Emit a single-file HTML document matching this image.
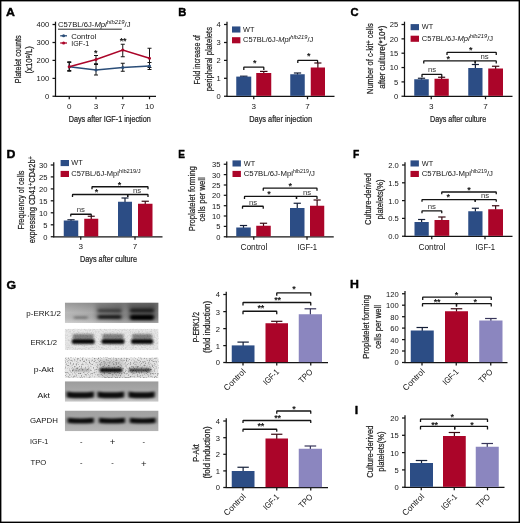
<!DOCTYPE html>
<html><head><meta charset="utf-8"><title>Figure</title>
<style>
html,body{margin:0;padding:0;background:#fff;}
body{width:520px;height:523px;overflow:hidden;font-family:"Liberation Sans",sans-serif;}
svg{display:block;font-family:"Liberation Sans",sans-serif;opacity:0.999;}
</style></head><body>
<svg width="520" height="523" viewBox="0 0 520 523">
<defs>
<filter id="b0_9" filterUnits="userSpaceOnUse" x="60" y="295" width="105" height="145"><feGaussianBlur stdDeviation="0.9 0.7"/></filter>
<filter id="b1_0" filterUnits="userSpaceOnUse" x="60" y="295" width="105" height="145"><feGaussianBlur stdDeviation="1.0 0.8"/></filter>
<filter id="b1_2" filterUnits="userSpaceOnUse" x="60" y="295" width="105" height="145"><feGaussianBlur stdDeviation="1.3 0.9"/></filter>
<filter id="b1_4" filterUnits="userSpaceOnUse" x="60" y="295" width="105" height="145"><feGaussianBlur stdDeviation="1.5 1.1"/></filter>
<filter id="b2_5" filterUnits="userSpaceOnUse" x="60" y="295" width="105" height="145"><feGaussianBlur stdDeviation="2.5 2"/></filter>
<filter id="noiseS" x="0" y="0" width="100%" height="100%"><feTurbulence type="fractalNoise" baseFrequency="0.75" numOctaves="2" seed="3" result="n"/><feColorMatrix type="matrix" values="0 0 0 0 0  0 0 0 0 0  0 0 0 0 0  2.6 0 0 0 -1.25"/><feGaussianBlur stdDeviation="0.35"/></filter>
<filter id="noiseL" x="0" y="0" width="100%" height="100%"><feTurbulence type="fractalNoise" baseFrequency="0.7" numOctaves="2" seed="7"/><feColorMatrix type="matrix" values="0 0 0 0 0  0 0 0 0 0  0 0 0 0 0  1.2 0 0 0 -0.52"/><feGaussianBlur stdDeviation="0.4"/></filter>
<linearGradient id="g1" x1="0" y1="0" x2="1" y2="0"><stop offset="0" stop-color="#c4c4c4"/><stop offset="0.3" stop-color="#b2b2b2"/><stop offset="0.6" stop-color="#999"/><stop offset="1" stop-color="#8a8a8a"/></linearGradient>
<linearGradient id="g1v" x1="0" y1="0" x2="0" y2="1"><stop offset="0" stop-color="#000" stop-opacity="0.22"/><stop offset="0.5" stop-color="#000" stop-opacity="0.05"/><stop offset="1" stop-color="#fff" stop-opacity="0.25"/></linearGradient>
<linearGradient id="g4" x1="0" y1="0" x2="0" y2="1"><stop offset="0" stop-color="#9c9c9c"/><stop offset="0.45" stop-color="#a8a8a8"/><stop offset="0.8" stop-color="#bdbdbd"/><stop offset="1" stop-color="#c6c6c6"/></linearGradient>
<linearGradient id="g5" x1="0" y1="0" x2="0" y2="1"><stop offset="0" stop-color="#a2a2a2"/><stop offset="0.5" stop-color="#a6a6a6"/><stop offset="1" stop-color="#b4b4b4"/></linearGradient>
<clipPath id="c1"><rect x="64.8" y="302.5" width="93.8" height="20.5"/></clipPath>
<clipPath id="c2"><rect x="64.8" y="328.75" width="93.8" height="21.25"/></clipPath>
<clipPath id="c3"><rect x="64.8" y="357.5" width="93.8" height="20.5"/></clipPath>
<clipPath id="c4"><rect x="64.8" y="381.25" width="93.8" height="20.5"/></clipPath>
<clipPath id="c5"><rect x="64.8" y="410.5" width="93.8" height="20.75"/></clipPath>
</defs>
<rect x="0" y="0" width="520" height="523" fill="#fff"/>
<text transform="translate(6.1 15.7) scale(1.1 1)" font-size="11.2" font-weight="bold" fill="#000" stroke="#000" stroke-width="0.4" stroke-linejoin="round">A</text>
<line x1="55.5" y1="21.7" x2="55.5" y2="96.8" stroke="#141414" stroke-width="1.25" stroke-linecap="butt"/>
<line x1="54.95" y1="96.25" x2="156" y2="96.25" stroke="#141414" stroke-width="1.25" stroke-linecap="butt"/>
<line x1="52.5" y1="24.5" x2="55.5" y2="24.5" stroke="#141414" stroke-width="1.25" stroke-linecap="butt"/>
<text x="49.3" y="27.4" font-size="8.1" text-anchor="end" fill="#141414" textLength="12.7" lengthAdjust="spacingAndGlyphs" >400</text>
<line x1="52.5" y1="42.5" x2="55.5" y2="42.5" stroke="#141414" stroke-width="1.25" stroke-linecap="butt"/>
<text x="49.3" y="45.4" font-size="8.1" text-anchor="end" fill="#141414" textLength="12.7" lengthAdjust="spacingAndGlyphs" >300</text>
<line x1="52.5" y1="60.4" x2="55.5" y2="60.4" stroke="#141414" stroke-width="1.25" stroke-linecap="butt"/>
<text x="49.3" y="63.3" font-size="8.1" text-anchor="end" fill="#141414" textLength="12.7" lengthAdjust="spacingAndGlyphs" >200</text>
<line x1="52.5" y1="78.4" x2="55.5" y2="78.4" stroke="#141414" stroke-width="1.25" stroke-linecap="butt"/>
<text x="49.3" y="81.30000000000001" font-size="8.1" text-anchor="end" fill="#141414" textLength="12.7" lengthAdjust="spacingAndGlyphs" >100</text>
<line x1="52.5" y1="96.25" x2="55.5" y2="96.25" stroke="#141414" stroke-width="1.25" stroke-linecap="butt"/>
<text x="49.3" y="99.15" font-size="8.1" text-anchor="end" fill="#141414" textLength="4.23" lengthAdjust="spacingAndGlyphs" >0</text>
<line x1="69.25" y1="96.25" x2="69.25" y2="99.25" stroke="#141414" stroke-width="1.25" stroke-linecap="butt"/>
<line x1="96" y1="96.25" x2="96" y2="99.25" stroke="#141414" stroke-width="1.25" stroke-linecap="butt"/>
<line x1="122.75" y1="96.25" x2="122.75" y2="99.25" stroke="#141414" stroke-width="1.25" stroke-linecap="butt"/>
<line x1="149.5" y1="96.25" x2="149.5" y2="99.25" stroke="#141414" stroke-width="1.25" stroke-linecap="butt"/>
<text x="69.25" y="109.2" font-size="8.1" text-anchor="middle" fill="#141414" >0</text>
<text x="96" y="109.2" font-size="8.1" text-anchor="middle" fill="#141414" >3</text>
<text x="122.75" y="109.2" font-size="8.1" text-anchor="middle" fill="#141414" >7</text>
<text x="149.5" y="109.2" font-size="8.1" text-anchor="middle" fill="#141414" >10</text>
<text x="68.75" y="122.32400000000001" font-size="8.6" fill="#222" stroke="#222" stroke-width="0.22" textLength="82.0" lengthAdjust="spacingAndGlyphs">Days after IGF-1 injection</text>
<text transform="translate(20.86 83.2) rotate(-90)" font-size="9.0" fill="#222" stroke="#222" stroke-width="0.22" textLength="47.900000000000006" lengthAdjust="spacingAndGlyphs">Platelet counts</text>
<text transform="translate(32.4 73.6) rotate(-90)" font-size="9.0" fill="#222" stroke="#222" stroke-width="0.22" textLength="27.6" lengthAdjust="spacingAndGlyphs">(x10<tspan font-size="6.2" dy="-2.8">9</tspan><tspan dy="2.8">/L)</tspan></text>
<text x="58.0" y="27.0" font-size="7.3" fill="#141414" textLength="72.6" lengthAdjust="spacingAndGlyphs">C57BL/6J-<tspan font-style="italic">Mpl</tspan><tspan font-style="italic" font-size="5.6" dy="-3">hlb219</tspan><tspan dy="3">/J</tspan></text>
<line x1="58.0" y1="29.2" x2="121.8" y2="29.2" stroke="#141414" stroke-width="0.9" stroke-linecap="butt"/>
<line x1="60.2" y1="35.8" x2="67" y2="35.8" stroke="#2a4d78" stroke-width="1.3" stroke-linecap="butt"/>
<circle cx="63.6" cy="35.8" r="1.5" fill="#2a4d78"/>
<text x="71.2" y="38.6" font-size="7.4" text-anchor="start" fill="#141414" textLength="25" lengthAdjust="spacingAndGlyphs" >Control</text>
<line x1="60.2" y1="43" x2="67" y2="43" stroke="#ab0529" stroke-width="1.3" stroke-linecap="butt"/>
<circle cx="63.6" cy="43" r="1.5" fill="#ab0529"/>
<text x="71.2" y="45.6" font-size="7.4" text-anchor="start" fill="#141414" textLength="18" lengthAdjust="spacingAndGlyphs" >IGF-1</text>
<line x1="69.25" y1="61.75" x2="69.25" y2="71.25" stroke="#141414" stroke-width="1.0" stroke-linecap="butt"/>
<line x1="67.25" y1="61.75" x2="71.25" y2="61.75" stroke="#141414" stroke-width="1.0" stroke-linecap="butt"/>
<line x1="67.25" y1="71.25" x2="71.25" y2="71.25" stroke="#141414" stroke-width="1.0" stroke-linecap="butt"/>
<line x1="96" y1="63.75" x2="96" y2="75" stroke="#141414" stroke-width="1.0" stroke-linecap="butt"/>
<line x1="94" y1="63.75" x2="98" y2="63.75" stroke="#141414" stroke-width="1.0" stroke-linecap="butt"/>
<line x1="94" y1="75" x2="98" y2="75" stroke="#141414" stroke-width="1.0" stroke-linecap="butt"/>
<line x1="122.75" y1="63.25" x2="122.75" y2="71.25" stroke="#141414" stroke-width="1.0" stroke-linecap="butt"/>
<line x1="120.75" y1="63.25" x2="124.75" y2="63.25" stroke="#141414" stroke-width="1.0" stroke-linecap="butt"/>
<line x1="120.75" y1="71.25" x2="124.75" y2="71.25" stroke="#141414" stroke-width="1.0" stroke-linecap="butt"/>
<line x1="149.5" y1="62.5" x2="149.5" y2="69.5" stroke="#141414" stroke-width="1.0" stroke-linecap="butt"/>
<line x1="147.5" y1="62.5" x2="151.5" y2="62.5" stroke="#141414" stroke-width="1.0" stroke-linecap="butt"/>
<line x1="147.5" y1="69.5" x2="151.5" y2="69.5" stroke="#141414" stroke-width="1.0" stroke-linecap="butt"/>
<line x1="69.25" y1="62.5" x2="69.25" y2="70.5" stroke="#141414" stroke-width="1.0" stroke-linecap="butt"/>
<line x1="67.25" y1="62.5" x2="71.25" y2="62.5" stroke="#141414" stroke-width="1.0" stroke-linecap="butt"/>
<line x1="67.25" y1="70.5" x2="71.25" y2="70.5" stroke="#141414" stroke-width="1.0" stroke-linecap="butt"/>
<line x1="96" y1="55.5" x2="96" y2="64.5" stroke="#141414" stroke-width="1.0" stroke-linecap="butt"/>
<line x1="94" y1="55.5" x2="98" y2="55.5" stroke="#141414" stroke-width="1.0" stroke-linecap="butt"/>
<line x1="94" y1="64.5" x2="98" y2="64.5" stroke="#141414" stroke-width="1.0" stroke-linecap="butt"/>
<line x1="122.75" y1="44.25" x2="122.75" y2="56.75" stroke="#141414" stroke-width="1.0" stroke-linecap="butt"/>
<line x1="120.75" y1="44.25" x2="124.75" y2="44.25" stroke="#141414" stroke-width="1.0" stroke-linecap="butt"/>
<line x1="120.75" y1="56.75" x2="124.75" y2="56.75" stroke="#141414" stroke-width="1.0" stroke-linecap="butt"/>
<line x1="149.5" y1="48.25" x2="149.5" y2="67.5" stroke="#141414" stroke-width="1.0" stroke-linecap="butt"/>
<line x1="147.5" y1="48.25" x2="151.5" y2="48.25" stroke="#141414" stroke-width="1.0" stroke-linecap="butt"/>
<line x1="147.5" y1="67.5" x2="151.5" y2="67.5" stroke="#141414" stroke-width="1.0" stroke-linecap="butt"/>
<polyline points="69.25,66.75 96,70 122.75,67.5 149.5,66" fill="none" stroke="#2a4d78" stroke-width="1.5"/>
<polyline points="69.25,66.75 96,59.5 122.75,50 149.5,58.25" fill="none" stroke="#ab0529" stroke-width="1.5"/>
<circle cx="69.25" cy="66.75" r="1.5" fill="#2a4d78"/>
<circle cx="96" cy="70" r="1.5" fill="#2a4d78"/>
<circle cx="122.75" cy="67.5" r="1.5" fill="#2a4d78"/>
<circle cx="149.5" cy="66" r="1.5" fill="#2a4d78"/>
<circle cx="69.25" cy="66.75" r="1.5" fill="#ab0529"/>
<circle cx="96" cy="59.5" r="1.5" fill="#ab0529"/>
<circle cx="122.75" cy="50" r="1.5" fill="#ab0529"/>
<circle cx="149.5" cy="58.25" r="1.5" fill="#ab0529"/>
<text x="95.7" y="56.4" font-size="9" text-anchor="middle" fill="#141414" font-weight="bold" letter-spacing="-0.3">*</text>
<text x="123" y="44.0" font-size="9" text-anchor="middle" fill="#141414" font-weight="bold" letter-spacing="-0.3">**</text>
<text transform="translate(178.29999999999998 15.5) scale(1.0 1)" font-size="11.2" font-weight="bold" fill="#000" stroke="#000" stroke-width="0.4" stroke-linejoin="round">B</text>
<line x1="227" y1="21.7" x2="227" y2="96.8" stroke="#141414" stroke-width="1.25" stroke-linecap="butt"/>
<line x1="226.45" y1="96.25" x2="334.5" y2="96.25" stroke="#141414" stroke-width="1.25" stroke-linecap="butt"/>
<line x1="224" y1="24.5" x2="227" y2="24.5" stroke="#141414" stroke-width="1.25" stroke-linecap="butt"/>
<text x="220.8" y="27.4" font-size="8.1" text-anchor="end" fill="#141414" textLength="4.23" lengthAdjust="spacingAndGlyphs" >4</text>
<line x1="224" y1="42.5" x2="227" y2="42.5" stroke="#141414" stroke-width="1.25" stroke-linecap="butt"/>
<text x="220.8" y="45.4" font-size="8.1" text-anchor="end" fill="#141414" textLength="4.23" lengthAdjust="spacingAndGlyphs" >3</text>
<line x1="224" y1="60.4" x2="227" y2="60.4" stroke="#141414" stroke-width="1.25" stroke-linecap="butt"/>
<text x="220.8" y="63.3" font-size="8.1" text-anchor="end" fill="#141414" textLength="4.23" lengthAdjust="spacingAndGlyphs" >2</text>
<line x1="224" y1="78.3" x2="227" y2="78.3" stroke="#141414" stroke-width="1.25" stroke-linecap="butt"/>
<text x="220.8" y="81.2" font-size="8.1" text-anchor="end" fill="#141414" textLength="4.23" lengthAdjust="spacingAndGlyphs" >1</text>
<line x1="224" y1="96.25" x2="227" y2="96.25" stroke="#141414" stroke-width="1.25" stroke-linecap="butt"/>
<text x="220.8" y="99.15" font-size="8.1" text-anchor="end" fill="#141414" textLength="4.23" lengthAdjust="spacingAndGlyphs" >0</text>
<line x1="253.75" y1="96.25" x2="253.75" y2="99.25" stroke="#141414" stroke-width="1.25" stroke-linecap="butt"/>
<line x1="307.5" y1="96.25" x2="307.5" y2="99.25" stroke="#141414" stroke-width="1.25" stroke-linecap="butt"/>
<line x1="243.75" y1="76.2" x2="243.75" y2="77.1" stroke="#141f38" stroke-width="1.2" stroke-linecap="butt"/>
<line x1="240.0" y1="76.2" x2="247.5" y2="76.2" stroke="#141f38" stroke-width="1.2" stroke-linecap="butt"/>
<rect x="236.25" y="76.6" width="15.0" height="19.250000000000007" fill="#2c4d85" />
<line x1="263.75" y1="71.4" x2="263.75" y2="73.5" stroke="#3a0a12" stroke-width="1.2" stroke-linecap="butt"/>
<line x1="260.0" y1="71.4" x2="267.5" y2="71.4" stroke="#3a0a12" stroke-width="1.2" stroke-linecap="butt"/>
<rect x="256.25" y="73" width="15.0" height="22.85" fill="#ab0529" />
<line x1="297.5" y1="73" x2="297.5" y2="74.75" stroke="#141f38" stroke-width="1.2" stroke-linecap="butt"/>
<line x1="293.875" y1="73" x2="301.125" y2="73" stroke="#141f38" stroke-width="1.2" stroke-linecap="butt"/>
<rect x="290.25" y="74.25" width="14.5" height="21.6" fill="#2c4d85" />
<line x1="317.875" y1="63" x2="317.875" y2="68.0" stroke="#3a0a12" stroke-width="1.2" stroke-linecap="butt"/>
<line x1="314.3125" y1="63" x2="321.4375" y2="63" stroke="#3a0a12" stroke-width="1.2" stroke-linecap="butt"/>
<rect x="310.75" y="67.5" width="14.25" height="28.35" fill="#ab0529" />
<path d="M243.8 70.0 V67.5 Q243.8 67.1 244.20000000000002 67.1 H263.40000000000003 Q263.8 67.1 263.8 67.5 V70.0" fill="none" stroke="#141414" stroke-width="1.3"/>
<text x="254.7" y="66.3" font-size="9" text-anchor="middle" fill="#141414" font-weight="bold" letter-spacing="-0.3">*</text>
<path d="M297.8 62.9 V60.699999999999996 Q297.8 60.3 298.2 60.3 H317.20000000000005 Q317.6 60.3 317.6 60.699999999999996 V62.9" fill="none" stroke="#141414" stroke-width="1.3"/>
<text x="308.6" y="59.199999999999996" font-size="9" text-anchor="middle" fill="#141414" font-weight="bold" letter-spacing="-0.3">*</text>
<rect x="232" y="26.45" width="8.4" height="6.1" fill="#2c4d85" />
<rect x="232" y="37.2" width="8.4" height="6.1" fill="#ab0529" />
<text x="243" y="31.55" font-size="7.3" text-anchor="start" fill="#141414" >WT</text>
<text x="243" y="42.3" font-size="7.3" fill="#141414" textLength="70.25" lengthAdjust="spacingAndGlyphs">C57BL/6J-<tspan font-style="italic">Mpl</tspan><tspan font-style="italic" font-size="5.6" dy="-3">hlb219</tspan><tspan dy="3">/J</tspan></text>
<text x="253.75" y="109.2" font-size="8.1" text-anchor="middle" fill="#141414" >3</text>
<text x="307.5" y="109.2" font-size="8.1" text-anchor="middle" fill="#141414" >7</text>
<text x="249.25" y="121.924" font-size="8.6" fill="#222" stroke="#222" stroke-width="0.22" textLength="62.75" lengthAdjust="spacingAndGlyphs">Days after injection</text>
<text transform="translate(200.06 84.5) rotate(-90)" font-size="9.0" fill="#222" stroke="#222" stroke-width="0.22" textLength="49.5" lengthAdjust="spacingAndGlyphs">Fold increase of</text>
<text transform="translate(212.31 91.25) rotate(-90)" font-size="9.0" fill="#222" stroke="#222" stroke-width="0.22" textLength="64.25" lengthAdjust="spacingAndGlyphs">peripheral platelets</text>
<text transform="translate(350.6 15.5) scale(1.0 1)" font-size="11.2" font-weight="bold" fill="#000" stroke="#000" stroke-width="0.4" stroke-linejoin="round">C</text>
<line x1="404.5" y1="21.7" x2="404.5" y2="96.8" stroke="#141414" stroke-width="1.25" stroke-linecap="butt"/>
<line x1="403.95" y1="96.25" x2="512.5" y2="96.25" stroke="#141414" stroke-width="1.25" stroke-linecap="butt"/>
<line x1="401.5" y1="24.5" x2="404.5" y2="24.5" stroke="#141414" stroke-width="1.25" stroke-linecap="butt"/>
<text x="398.3" y="27.4" font-size="8.1" text-anchor="end" fill="#141414" textLength="8.47" lengthAdjust="spacingAndGlyphs" >25</text>
<line x1="401.5" y1="38.85" x2="404.5" y2="38.85" stroke="#141414" stroke-width="1.25" stroke-linecap="butt"/>
<text x="398.3" y="41.75" font-size="8.1" text-anchor="end" fill="#141414" textLength="8.47" lengthAdjust="spacingAndGlyphs" >20</text>
<line x1="401.5" y1="53.2" x2="404.5" y2="53.2" stroke="#141414" stroke-width="1.25" stroke-linecap="butt"/>
<text x="398.3" y="56.1" font-size="8.1" text-anchor="end" fill="#141414" textLength="8.47" lengthAdjust="spacingAndGlyphs" >15</text>
<line x1="401.5" y1="67.55" x2="404.5" y2="67.55" stroke="#141414" stroke-width="1.25" stroke-linecap="butt"/>
<text x="398.3" y="70.45" font-size="8.1" text-anchor="end" fill="#141414" textLength="8.47" lengthAdjust="spacingAndGlyphs" >10</text>
<line x1="401.5" y1="81.9" x2="404.5" y2="81.9" stroke="#141414" stroke-width="1.25" stroke-linecap="butt"/>
<text x="398.3" y="84.80000000000001" font-size="8.1" text-anchor="end" fill="#141414" textLength="4.23" lengthAdjust="spacingAndGlyphs" >5</text>
<line x1="401.5" y1="96.25" x2="404.5" y2="96.25" stroke="#141414" stroke-width="1.25" stroke-linecap="butt"/>
<text x="398.3" y="99.15" font-size="8.1" text-anchor="end" fill="#141414" textLength="4.23" lengthAdjust="spacingAndGlyphs" >0</text>
<line x1="431.25" y1="96.25" x2="431.25" y2="99.25" stroke="#141414" stroke-width="1.25" stroke-linecap="butt"/>
<line x1="485.5" y1="96.25" x2="485.5" y2="99.25" stroke="#141414" stroke-width="1.25" stroke-linecap="butt"/>
<line x1="421.5" y1="78.25" x2="421.5" y2="79.75" stroke="#141f38" stroke-width="1.2" stroke-linecap="butt"/>
<line x1="417.875" y1="78.25" x2="425.125" y2="78.25" stroke="#141f38" stroke-width="1.2" stroke-linecap="butt"/>
<rect x="414.25" y="79.25" width="14.5" height="16.6" fill="#2c4d85" />
<line x1="441.625" y1="77.25" x2="441.625" y2="79.25" stroke="#3a0a12" stroke-width="1.2" stroke-linecap="butt"/>
<line x1="438.0625" y1="77.25" x2="445.1875" y2="77.25" stroke="#3a0a12" stroke-width="1.2" stroke-linecap="butt"/>
<rect x="434.5" y="78.75" width="14.25" height="17.1" fill="#ab0529" />
<line x1="475.375" y1="64.5" x2="475.375" y2="68.5" stroke="#141f38" stroke-width="1.2" stroke-linecap="butt"/>
<line x1="471.8125" y1="64.5" x2="478.9375" y2="64.5" stroke="#141f38" stroke-width="1.2" stroke-linecap="butt"/>
<rect x="468.25" y="68" width="14.25" height="27.85" fill="#2c4d85" />
<line x1="495.625" y1="66.25" x2="495.625" y2="69.0" stroke="#3a0a12" stroke-width="1.2" stroke-linecap="butt"/>
<line x1="491.9375" y1="66.25" x2="499.3125" y2="66.25" stroke="#3a0a12" stroke-width="1.2" stroke-linecap="butt"/>
<rect x="488.25" y="68.5" width="14.75" height="27.35" fill="#ab0529" />
<path d="M422 77.2 V74.80000000000001 Q422 74.4 422.4 74.4 H441.35 Q441.75 74.4 441.75 74.80000000000001 V77.2" fill="none" stroke="#141414" stroke-width="1.3"/>
<text x="432" y="72.0" font-size="7.8" text-anchor="middle" fill="#333" >ns</text>
<path d="M423.75 63.4 V61.3 Q423.75 60.9 424.15 60.9 H474.8 Q475.2 60.9 475.2 61.3 V63.4" fill="none" stroke="#141414" stroke-width="1.3"/>
<text x="448" y="62.0" font-size="9" text-anchor="middle" fill="#141414" font-weight="bold" letter-spacing="-0.3">*</text>
<path d="M475.2 63.4 V61.3 Q475.2 60.9 475.59999999999997 60.9 H495.85 Q496.25 60.9 496.25 61.3 V63.4" fill="none" stroke="#141414" stroke-width="1.3"/>
<text x="484.5" y="59.3" font-size="7.8" text-anchor="middle" fill="#333" >ns</text>
<path d="M447 54.9 V52.8 Q447 52.4 447.4 52.4 H495.85 Q496.25 52.4 496.25 52.8 V54.9" fill="none" stroke="#141414" stroke-width="1.3"/>
<text x="470.5" y="52.699999999999996" font-size="9" text-anchor="middle" fill="#141414" font-weight="bold" letter-spacing="-0.3">*</text>
<rect x="410.6" y="24.099999999999998" width="8.4" height="6.1" fill="#2c4d85" />
<rect x="410.6" y="35.7" width="8.4" height="6.1" fill="#ab0529" />
<text x="421.75" y="29.2" font-size="7.3" text-anchor="start" fill="#141414" >WT</text>
<text x="421.75" y="40.8" font-size="7.3" fill="#141414" textLength="71.35000000000002" lengthAdjust="spacingAndGlyphs">C57BL/6J-<tspan font-style="italic">Mpl</tspan><tspan font-style="italic" font-size="5.6" dy="-3">hlb219</tspan><tspan dy="3">/J</tspan></text>
<text x="431.25" y="109.2" font-size="8.1" text-anchor="middle" fill="#141414" >3</text>
<text x="485.5" y="109.2" font-size="8.1" text-anchor="middle" fill="#141414" >7</text>
<text x="430" y="121.924" font-size="8.6" fill="#222" stroke="#222" stroke-width="0.22" textLength="56.25" lengthAdjust="spacingAndGlyphs">Days after culture</text>
<text transform="translate(373.4 94.0) rotate(-90)" font-size="9.0" fill="#222" stroke="#222" stroke-width="0.22" textLength="70.75" lengthAdjust="spacingAndGlyphs">Number of c-kit<tspan font-size="6.5" dy="-2.8">+</tspan><tspan dy="2.8"> cells</tspan></text>
<text transform="translate(385.4 88.8) rotate(-90)" font-size="9.0" fill="#222" stroke="#222" stroke-width="0.22" textLength="63.2" lengthAdjust="spacingAndGlyphs">after culture(*10<tspan font-size="6.2" dy="-2.8">4</tspan><tspan dy="2.8">)</tspan></text>
<text transform="translate(6.6 158.29999999999998) scale(1.1 1)" font-size="11.2" font-weight="bold" fill="#000" stroke="#000" stroke-width="0.4" stroke-linejoin="round">D</text>
<line x1="53.75" y1="162.2" x2="53.75" y2="237.3" stroke="#141414" stroke-width="1.25" stroke-linecap="butt"/>
<line x1="53.2" y1="236.75" x2="162.5" y2="236.75" stroke="#141414" stroke-width="1.25" stroke-linecap="butt"/>
<line x1="50.75" y1="165" x2="53.75" y2="165" stroke="#141414" stroke-width="1.25" stroke-linecap="butt"/>
<text x="47.55" y="167.9" font-size="8.1" text-anchor="end" fill="#141414" textLength="8.47" lengthAdjust="spacingAndGlyphs" >30</text>
<line x1="50.75" y1="176.9" x2="53.75" y2="176.9" stroke="#141414" stroke-width="1.25" stroke-linecap="butt"/>
<text x="47.55" y="179.8" font-size="8.1" text-anchor="end" fill="#141414" textLength="8.47" lengthAdjust="spacingAndGlyphs" >25</text>
<line x1="50.75" y1="188.9" x2="53.75" y2="188.9" stroke="#141414" stroke-width="1.25" stroke-linecap="butt"/>
<text x="47.55" y="191.8" font-size="8.1" text-anchor="end" fill="#141414" textLength="8.47" lengthAdjust="spacingAndGlyphs" >20</text>
<line x1="50.75" y1="200.8" x2="53.75" y2="200.8" stroke="#141414" stroke-width="1.25" stroke-linecap="butt"/>
<text x="47.55" y="203.70000000000002" font-size="8.1" text-anchor="end" fill="#141414" textLength="8.47" lengthAdjust="spacingAndGlyphs" >15</text>
<line x1="50.75" y1="212.8" x2="53.75" y2="212.8" stroke="#141414" stroke-width="1.25" stroke-linecap="butt"/>
<text x="47.55" y="215.70000000000002" font-size="8.1" text-anchor="end" fill="#141414" textLength="8.47" lengthAdjust="spacingAndGlyphs" >10</text>
<line x1="50.75" y1="224.8" x2="53.75" y2="224.8" stroke="#141414" stroke-width="1.25" stroke-linecap="butt"/>
<text x="47.55" y="227.70000000000002" font-size="8.1" text-anchor="end" fill="#141414" textLength="4.23" lengthAdjust="spacingAndGlyphs" >5</text>
<line x1="50.75" y1="236.75" x2="53.75" y2="236.75" stroke="#141414" stroke-width="1.25" stroke-linecap="butt"/>
<text x="47.55" y="239.65" font-size="8.1" text-anchor="end" fill="#141414" textLength="4.23" lengthAdjust="spacingAndGlyphs" >0</text>
<line x1="80.75" y1="236.75" x2="80.75" y2="239.75" stroke="#141414" stroke-width="1.25" stroke-linecap="butt"/>
<line x1="135" y1="236.75" x2="135" y2="239.75" stroke="#141414" stroke-width="1.25" stroke-linecap="butt"/>
<line x1="71.0" y1="219.8" x2="71.0" y2="221.0" stroke="#141f38" stroke-width="1.2" stroke-linecap="butt"/>
<line x1="67.375" y1="219.8" x2="74.625" y2="219.8" stroke="#141f38" stroke-width="1.2" stroke-linecap="butt"/>
<rect x="63.75" y="220.5" width="14.5" height="15.85" fill="#2c4d85" />
<line x1="91.25" y1="216.25" x2="91.25" y2="219.25" stroke="#3a0a12" stroke-width="1.2" stroke-linecap="butt"/>
<line x1="87.75" y1="216.25" x2="94.75" y2="216.25" stroke="#3a0a12" stroke-width="1.2" stroke-linecap="butt"/>
<rect x="84.25" y="218.75" width="14.0" height="17.6" fill="#ab0529" />
<line x1="125.0" y1="198" x2="125.0" y2="202.25" stroke="#141f38" stroke-width="1.2" stroke-linecap="butt"/>
<line x1="121.5" y1="198" x2="128.5" y2="198" stroke="#141f38" stroke-width="1.2" stroke-linecap="butt"/>
<rect x="118" y="201.75" width="14" height="34.6" fill="#2c4d85" />
<line x1="145.25" y1="201.25" x2="145.25" y2="204.25" stroke="#3a0a12" stroke-width="1.2" stroke-linecap="butt"/>
<line x1="141.625" y1="201.25" x2="148.875" y2="201.25" stroke="#3a0a12" stroke-width="1.2" stroke-linecap="butt"/>
<rect x="138" y="203.75" width="14.5" height="32.6" fill="#ab0529" />
<path d="M70.75 216.45 V214.65 Q70.75 214.25 71.15 214.25 H90.85 Q91.25 214.25 91.25 214.65 V216.45" fill="none" stroke="#141414" stroke-width="1.3"/>
<text x="80.75" y="212.0" font-size="7.8" text-anchor="middle" fill="#333" >ns</text>
<path d="M72.5 197.0 V194.9 Q72.5 194.5 72.9 194.5 H127.3 Q127.7 194.5 127.7 194.9 V197.0" fill="none" stroke="#141414" stroke-width="1.3"/>
<text x="96.25" y="195.0" font-size="9" text-anchor="middle" fill="#141414" font-weight="bold" letter-spacing="-0.3">*</text>
<path d="M127.7 197.0 V194.9 Q127.7 194.5 128.1 194.5 H147.6 Q148 194.5 148 194.9 V197.0" fill="none" stroke="#141414" stroke-width="1.3"/>
<text x="137" y="192.75" font-size="7.8" text-anchor="middle" fill="#333" >ns</text>
<path d="M92 189.25 V187.15 Q92 186.75 92.4 186.75 H147.6 Q148 186.75 148 187.15 V189.25" fill="none" stroke="#141414" stroke-width="1.3"/>
<text x="119.25" y="187.60000000000002" font-size="9" text-anchor="middle" fill="#141414" font-weight="bold" letter-spacing="-0.3">*</text>
<rect x="60.6" y="160.0" width="8.4" height="6.1" fill="#2c4d85" />
<rect x="60.6" y="170.89999999999998" width="8.4" height="6.1" fill="#ab0529" />
<text x="71.25" y="165.10000000000002" font-size="7.3" text-anchor="start" fill="#141414" >WT</text>
<text x="71.25" y="176.0" font-size="7.3" fill="#141414" textLength="69.5" lengthAdjust="spacingAndGlyphs">C57BL/6J-Mpl<tspan font-size="5.6" dy="-3">hlb219/J</tspan></text>
<text x="80.75" y="249.2" font-size="8.1" text-anchor="middle" fill="#141414" >3</text>
<text x="135" y="249.2" font-size="8.1" text-anchor="middle" fill="#141414" >7</text>
<text x="80" y="261.924" font-size="8.6" fill="#222" stroke="#222" stroke-width="0.22" textLength="57.099999999999994" lengthAdjust="spacingAndGlyphs">Days after culture</text>
<text transform="translate(24.31 229.5) rotate(-90)" font-size="9.0" fill="#222" stroke="#222" stroke-width="0.22" textLength="59.0" lengthAdjust="spacingAndGlyphs">Frequency of cells</text>
<text transform="translate(35.2 243.3) rotate(-90)" font-size="9.0" fill="#222" stroke="#222" stroke-width="0.22" textLength="87" lengthAdjust="spacingAndGlyphs">expressing CD41<tspan font-size="6.5" dy="-2.6">+</tspan><tspan dy="2.6">CD42b</tspan><tspan font-size="6.5" dy="-2.6">+</tspan></text>
<text transform="translate(178.2 158.0) scale(0.9 1)" font-size="11.2" font-weight="bold" fill="#000" stroke="#000" stroke-width="0.4" stroke-linejoin="round">E</text>
<line x1="226.75" y1="161.45" x2="226.75" y2="237.3" stroke="#141414" stroke-width="1.25" stroke-linecap="butt"/>
<line x1="226.2" y1="236.75" x2="333.75" y2="236.75" stroke="#141414" stroke-width="1.25" stroke-linecap="butt"/>
<line x1="223.75" y1="164.25" x2="226.75" y2="164.25" stroke="#141414" stroke-width="1.25" stroke-linecap="butt"/>
<text x="220.55" y="167.15" font-size="8.1" text-anchor="end" fill="#141414" textLength="8.47" lengthAdjust="spacingAndGlyphs" >35</text>
<line x1="223.75" y1="174.6" x2="226.75" y2="174.6" stroke="#141414" stroke-width="1.25" stroke-linecap="butt"/>
<text x="220.55" y="177.5" font-size="8.1" text-anchor="end" fill="#141414" textLength="8.47" lengthAdjust="spacingAndGlyphs" >30</text>
<line x1="223.75" y1="185" x2="226.75" y2="185" stroke="#141414" stroke-width="1.25" stroke-linecap="butt"/>
<text x="220.55" y="187.9" font-size="8.1" text-anchor="end" fill="#141414" textLength="8.47" lengthAdjust="spacingAndGlyphs" >25</text>
<line x1="223.75" y1="195.3" x2="226.75" y2="195.3" stroke="#141414" stroke-width="1.25" stroke-linecap="butt"/>
<text x="220.55" y="198.20000000000002" font-size="8.1" text-anchor="end" fill="#141414" textLength="8.47" lengthAdjust="spacingAndGlyphs" >20</text>
<line x1="223.75" y1="205.7" x2="226.75" y2="205.7" stroke="#141414" stroke-width="1.25" stroke-linecap="butt"/>
<text x="220.55" y="208.6" font-size="8.1" text-anchor="end" fill="#141414" textLength="8.47" lengthAdjust="spacingAndGlyphs" >15</text>
<line x1="223.75" y1="216" x2="226.75" y2="216" stroke="#141414" stroke-width="1.25" stroke-linecap="butt"/>
<text x="220.55" y="218.9" font-size="8.1" text-anchor="end" fill="#141414" textLength="8.47" lengthAdjust="spacingAndGlyphs" >10</text>
<line x1="223.75" y1="226.4" x2="226.75" y2="226.4" stroke="#141414" stroke-width="1.25" stroke-linecap="butt"/>
<text x="220.55" y="229.3" font-size="8.1" text-anchor="end" fill="#141414" textLength="4.23" lengthAdjust="spacingAndGlyphs" >5</text>
<line x1="223.75" y1="236.75" x2="226.75" y2="236.75" stroke="#141414" stroke-width="1.25" stroke-linecap="butt"/>
<text x="220.55" y="239.65" font-size="8.1" text-anchor="end" fill="#141414" textLength="4.23" lengthAdjust="spacingAndGlyphs" >0</text>
<line x1="253.75" y1="236.75" x2="253.75" y2="239.75" stroke="#141414" stroke-width="1.25" stroke-linecap="butt"/>
<line x1="307" y1="236.75" x2="307" y2="239.75" stroke="#141414" stroke-width="1.25" stroke-linecap="butt"/>
<line x1="243.5" y1="225.5" x2="243.5" y2="228.0" stroke="#141f38" stroke-width="1.2" stroke-linecap="butt"/>
<line x1="239.875" y1="225.5" x2="247.125" y2="225.5" stroke="#141f38" stroke-width="1.2" stroke-linecap="butt"/>
<rect x="236.25" y="227.5" width="14.5" height="8.85" fill="#2c4d85" />
<line x1="263.5" y1="223.25" x2="263.5" y2="226.25" stroke="#3a0a12" stroke-width="1.2" stroke-linecap="butt"/>
<line x1="259.875" y1="223.25" x2="267.125" y2="223.25" stroke="#3a0a12" stroke-width="1.2" stroke-linecap="butt"/>
<rect x="256.25" y="225.75" width="14.5" height="10.6" fill="#ab0529" />
<line x1="297.25" y1="203.25" x2="297.25" y2="208.5" stroke="#141f38" stroke-width="1.2" stroke-linecap="butt"/>
<line x1="293.625" y1="203.25" x2="300.875" y2="203.25" stroke="#141f38" stroke-width="1.2" stroke-linecap="butt"/>
<rect x="290" y="208" width="14.5" height="28.35" fill="#2c4d85" />
<line x1="317.125" y1="200" x2="317.125" y2="206.25" stroke="#3a0a12" stroke-width="1.2" stroke-linecap="butt"/>
<line x1="313.5625" y1="200" x2="320.6875" y2="200" stroke="#3a0a12" stroke-width="1.2" stroke-linecap="butt"/>
<rect x="310" y="205.75" width="14.25" height="30.6" fill="#ab0529" />
<path d="M242.5 208.75 V206.65 Q242.5 206.25 242.9 206.25 H262.85 Q263.25 206.25 263.25 206.65 V208.75" fill="none" stroke="#141414" stroke-width="1.3"/>
<text x="253" y="204.5" font-size="7.8" text-anchor="middle" fill="#333" >ns</text>
<path d="M244.5 198.9 V196.8 Q244.5 196.4 244.9 196.4 H296.1 Q296.5 196.4 296.5 196.8 V198.9" fill="none" stroke="#141414" stroke-width="1.3"/>
<text x="268.75" y="197.4" font-size="9" text-anchor="middle" fill="#141414" font-weight="bold" letter-spacing="-0.3">*</text>
<path d="M296.5 198.9 V196.8 Q296.5 196.4 296.9 196.4 H316.6 Q317 196.4 317 196.8 V198.9" fill="none" stroke="#141414" stroke-width="1.3"/>
<text x="307" y="195.2" font-size="7.8" text-anchor="middle" fill="#333" >ns</text>
<path d="M263.25 190.7 V188.6 Q263.25 188.2 263.65 188.2 H316.6 Q317 188.2 317 188.6 V190.7" fill="none" stroke="#141414" stroke-width="1.3"/>
<text x="290" y="189.0" font-size="9" text-anchor="middle" fill="#141414" font-weight="bold" letter-spacing="-0.3">*</text>
<rect x="232.5" y="160.39999999999998" width="8.4" height="6.1" fill="#2c4d85" />
<rect x="232.5" y="170.89999999999998" width="8.4" height="6.1" fill="#ab0529" />
<text x="243.75" y="165.5" font-size="7.3" text-anchor="start" fill="#141414" >WT</text>
<text x="243.75" y="176.0" font-size="7.3" fill="#141414" textLength="71.25" lengthAdjust="spacingAndGlyphs">C57BL/6J-Mpl<tspan font-size="5.0" dy="-3">hlb219</tspan><tspan dy="3">/J</tspan></text>
<text x="253.9" y="250" font-size="8.6" text-anchor="middle" fill="#141414" textLength="27" lengthAdjust="spacingAndGlyphs" >Control</text>
<text x="307.2" y="250" font-size="8.6" text-anchor="middle" fill="#141414" textLength="19.6" lengthAdjust="spacingAndGlyphs" >IGF-1</text>
<text transform="translate(194.81 231.25) rotate(-90)" font-size="9.0" fill="#222" stroke="#222" stroke-width="0.22" textLength="65.0" lengthAdjust="spacingAndGlyphs">Proplatelet forming</text>
<text transform="translate(205.46 221.5) rotate(-90)" font-size="9.0" fill="#222" stroke="#222" stroke-width="0.22" textLength="44.30000000000001" lengthAdjust="spacingAndGlyphs">cells per well</text>
<text transform="translate(353.1 157.79999999999998) scale(0.92 1)" font-size="11.2" font-weight="bold" fill="#000" stroke="#000" stroke-width="0.4" stroke-linejoin="round">F</text>
<line x1="405" y1="162.2" x2="405" y2="236.8" stroke="#141414" stroke-width="1.25" stroke-linecap="butt"/>
<line x1="404.45" y1="236.25" x2="512.5" y2="236.25" stroke="#141414" stroke-width="1.25" stroke-linecap="butt"/>
<line x1="402" y1="165" x2="405" y2="165" stroke="#141414" stroke-width="1.25" stroke-linecap="butt"/>
<text x="398.8" y="167.9" font-size="8.1" text-anchor="end" fill="#141414" textLength="10.58" lengthAdjust="spacingAndGlyphs" >2.0</text>
<line x1="402" y1="182.8" x2="405" y2="182.8" stroke="#141414" stroke-width="1.25" stroke-linecap="butt"/>
<text x="398.8" y="185.70000000000002" font-size="8.1" text-anchor="end" fill="#141414" textLength="10.58" lengthAdjust="spacingAndGlyphs" >1.5</text>
<line x1="402" y1="200.6" x2="405" y2="200.6" stroke="#141414" stroke-width="1.25" stroke-linecap="butt"/>
<text x="398.8" y="203.5" font-size="8.1" text-anchor="end" fill="#141414" textLength="10.58" lengthAdjust="spacingAndGlyphs" >1.0</text>
<line x1="402" y1="218.4" x2="405" y2="218.4" stroke="#141414" stroke-width="1.25" stroke-linecap="butt"/>
<text x="398.8" y="221.3" font-size="8.1" text-anchor="end" fill="#141414" textLength="10.58" lengthAdjust="spacingAndGlyphs" >0.5</text>
<line x1="402" y1="236.25" x2="405" y2="236.25" stroke="#141414" stroke-width="1.25" stroke-linecap="butt"/>
<text x="398.8" y="239.15" font-size="8.1" text-anchor="end" fill="#141414" textLength="10.58" lengthAdjust="spacingAndGlyphs" >0.0</text>
<line x1="431.75" y1="236.25" x2="431.75" y2="239.25" stroke="#141414" stroke-width="1.25" stroke-linecap="butt"/>
<line x1="485" y1="236.25" x2="485" y2="239.25" stroke="#141414" stroke-width="1.25" stroke-linecap="butt"/>
<line x1="421.625" y1="219.5" x2="421.625" y2="222.5" stroke="#141f38" stroke-width="1.2" stroke-linecap="butt"/>
<line x1="418.0625" y1="219.5" x2="425.1875" y2="219.5" stroke="#141f38" stroke-width="1.2" stroke-linecap="butt"/>
<rect x="414.5" y="222" width="14.25" height="13.85" fill="#2c4d85" />
<line x1="441.875" y1="217" x2="441.875" y2="220.5" stroke="#3a0a12" stroke-width="1.2" stroke-linecap="butt"/>
<line x1="438.1875" y1="217" x2="445.5625" y2="217" stroke="#3a0a12" stroke-width="1.2" stroke-linecap="butt"/>
<rect x="434.5" y="220" width="14.75" height="15.85" fill="#ab0529" />
<line x1="475.375" y1="208.25" x2="475.375" y2="211.75" stroke="#141f38" stroke-width="1.2" stroke-linecap="butt"/>
<line x1="471.8125" y1="208.25" x2="478.9375" y2="208.25" stroke="#141f38" stroke-width="1.2" stroke-linecap="butt"/>
<rect x="468.25" y="211.25" width="14.25" height="24.6" fill="#2c4d85" />
<line x1="495.625" y1="205.75" x2="495.625" y2="209.75" stroke="#3a0a12" stroke-width="1.2" stroke-linecap="butt"/>
<line x1="491.9375" y1="205.75" x2="499.3125" y2="205.75" stroke="#3a0a12" stroke-width="1.2" stroke-linecap="butt"/>
<rect x="488.25" y="209.25" width="14.75" height="26.6" fill="#ab0529" />
<path d="M422 213.3 V211.20000000000002 Q422 210.8 422.4 210.8 H441.35 Q441.75 210.8 441.75 211.20000000000002 V213.3" fill="none" stroke="#141414" stroke-width="1.3"/>
<text x="431.75" y="208.6" font-size="7.8" text-anchor="middle" fill="#333" >ns</text>
<path d="M422 201.79999999999998 V200.0 Q422 199.6 422.4 199.6 H474.8 Q475.2 199.6 475.2 200.0 V201.79999999999998" fill="none" stroke="#141414" stroke-width="1.3"/>
<text x="448" y="200.20000000000002" font-size="9" text-anchor="middle" fill="#141414" font-weight="bold" letter-spacing="-0.3">*</text>
<path d="M475.2 201.79999999999998 V200.0 Q475.2 199.6 475.59999999999997 199.6 H495.85 Q496.25 199.6 496.25 200.0 V201.79999999999998" fill="none" stroke="#141414" stroke-width="1.3"/>
<text x="485" y="198.2" font-size="7.8" text-anchor="middle" fill="#333" >ns</text>
<path d="M441.75 194.3 V192.4 Q441.75 192 442.15 192 H495.85 Q496.25 192 496.25 192.4 V194.3" fill="none" stroke="#141414" stroke-width="1.3"/>
<text x="468.75" y="193.0" font-size="9" text-anchor="middle" fill="#141414" font-weight="bold" letter-spacing="-0.3">*</text>
<rect x="410.5" y="160.39999999999998" width="8.4" height="6.1" fill="#2c4d85" />
<rect x="410.5" y="170.89999999999998" width="8.4" height="6.1" fill="#ab0529" />
<text x="421.75" y="165.5" font-size="7.3" text-anchor="start" fill="#141414" >WT</text>
<text x="421.75" y="176.0" font-size="7.3" fill="#141414" textLength="71.25" lengthAdjust="spacingAndGlyphs">C57BL/6J-Mpl<tspan font-size="5.0" dy="-3">hlb219</tspan><tspan dy="3">/J</tspan></text>
<text x="431.9" y="250" font-size="8.6" text-anchor="middle" fill="#141414" textLength="27" lengthAdjust="spacingAndGlyphs" >Control</text>
<text x="485.2" y="250" font-size="8.6" text-anchor="middle" fill="#141414" textLength="19.6" lengthAdjust="spacingAndGlyphs" >IGF-1</text>
<text transform="translate(371.06 225) rotate(-90)" font-size="9.0" fill="#222" stroke="#222" stroke-width="0.22" textLength="52" lengthAdjust="spacingAndGlyphs">Culture-derived</text>
<text transform="translate(383.06 219.4) rotate(-90)" font-size="9.0" fill="#222" stroke="#222" stroke-width="0.22" textLength="40.0" lengthAdjust="spacingAndGlyphs">platelets(%)</text>
<text transform="translate(6.6 289.1) scale(1.1 1)" font-size="11.2" font-weight="bold" fill="#000" stroke="#000" stroke-width="0.4" stroke-linejoin="round">G</text>
<line x1="226.25" y1="291.7" x2="226.25" y2="363.05" stroke="#141414" stroke-width="1.25" stroke-linecap="butt"/>
<line x1="225.7" y1="362.5" x2="328" y2="362.5" stroke="#141414" stroke-width="1.25" stroke-linecap="butt"/>
<line x1="223.25" y1="294.5" x2="226.25" y2="294.5" stroke="#141414" stroke-width="1.25" stroke-linecap="butt"/>
<text x="220.05" y="297.4" font-size="8.1" text-anchor="end" fill="#141414" textLength="4.23" lengthAdjust="spacingAndGlyphs" >4</text>
<line x1="223.25" y1="311.6" x2="226.25" y2="311.6" stroke="#141414" stroke-width="1.25" stroke-linecap="butt"/>
<text x="220.05" y="314.5" font-size="8.1" text-anchor="end" fill="#141414" textLength="4.23" lengthAdjust="spacingAndGlyphs" >3</text>
<line x1="223.25" y1="328.6" x2="226.25" y2="328.6" stroke="#141414" stroke-width="1.25" stroke-linecap="butt"/>
<text x="220.05" y="331.5" font-size="8.1" text-anchor="end" fill="#141414" textLength="4.23" lengthAdjust="spacingAndGlyphs" >2</text>
<line x1="223.25" y1="345.6" x2="226.25" y2="345.6" stroke="#141414" stroke-width="1.25" stroke-linecap="butt"/>
<text x="220.05" y="348.5" font-size="8.1" text-anchor="end" fill="#141414" textLength="4.23" lengthAdjust="spacingAndGlyphs" >1</text>
<line x1="223.25" y1="362.5" x2="226.25" y2="362.5" stroke="#141414" stroke-width="1.25" stroke-linecap="butt"/>
<text x="220.05" y="365.4" font-size="8.1" text-anchor="end" fill="#141414" textLength="4.23" lengthAdjust="spacingAndGlyphs" >0</text>
<line x1="243" y1="362.5" x2="243" y2="365.5" stroke="#141414" stroke-width="1.25" stroke-linecap="butt"/>
<line x1="276.75" y1="362.5" x2="276.75" y2="365.5" stroke="#141414" stroke-width="1.25" stroke-linecap="butt"/>
<line x1="310.75" y1="362.5" x2="310.75" y2="365.5" stroke="#141414" stroke-width="1.25" stroke-linecap="butt"/>
<line x1="243.125" y1="342.1" x2="243.125" y2="345.9" stroke="#141f38" stroke-width="1.2" stroke-linecap="butt"/>
<line x1="237.4375" y1="342.1" x2="248.8125" y2="342.1" stroke="#141f38" stroke-width="1.2" stroke-linecap="butt"/>
<rect x="231.75" y="345.4" width="22.75" height="16.700000000000024" fill="#2c4d85" />
<line x1="276.75" y1="321.3" x2="276.75" y2="323.75" stroke="#3a0a12" stroke-width="1.2" stroke-linecap="butt"/>
<line x1="271.125" y1="321.3" x2="282.375" y2="321.3" stroke="#3a0a12" stroke-width="1.2" stroke-linecap="butt"/>
<rect x="265.5" y="323.25" width="22.5" height="38.85" fill="#ab0529" />
<line x1="310.375" y1="308.8" x2="310.375" y2="314.75" stroke="#38365a" stroke-width="1.2" stroke-linecap="butt"/>
<line x1="304.5625" y1="308.8" x2="316.1875" y2="308.8" stroke="#38365a" stroke-width="1.2" stroke-linecap="butt"/>
<rect x="298.75" y="314.25" width="23.25" height="47.85" fill="#8b86bf" />
<path d="M243 314.25 V311.65 Q243 311.25 243.4 311.25 H276.35 Q276.75 311.25 276.75 311.65 V314.25" fill="none" stroke="#141414" stroke-width="1.3"/>
<text x="260.75" y="310.8" font-size="9" text-anchor="middle" fill="#141414" font-weight="bold" letter-spacing="-0.3">**</text>
<path d="M243 305.5 V302.9 Q243 302.5 243.4 302.5 H310.35 Q310.75 302.5 310.75 302.9 V305.5" fill="none" stroke="#141414" stroke-width="1.3"/>
<text x="277.5" y="302.5" font-size="9" text-anchor="middle" fill="#141414" font-weight="bold" letter-spacing="-0.3">**</text>
<path d="M276.75 295.8 V293.2 Q276.75 292.8 277.15 292.8 H310.35 Q310.75 292.8 310.75 293.2 V295.8" fill="none" stroke="#141414" stroke-width="1.3"/>
<text x="293.75" y="292.3" font-size="9" text-anchor="middle" fill="#141414" font-weight="bold" letter-spacing="-0.3">*</text>
<text transform="translate(199.05599999999998 342.3) rotate(-90)" font-size="8.4" fill="#222" stroke="#222" stroke-width="0.22" textLength="30.30000000000001" lengthAdjust="spacingAndGlyphs">P-ERK1/2</text>
<text transform="translate(210.256 353.0) rotate(-90)" font-size="8.4" fill="#222" stroke="#222" stroke-width="0.22" textLength="52.19999999999999" lengthAdjust="spacingAndGlyphs">(fold induction)</text>
<text transform="translate(246.2 372.1) rotate(-45)" font-size="8.4" text-anchor="end" fill="#141414">Control</text>
<text transform="translate(279.7 372.40000000000003) rotate(-45)" font-size="8.4" text-anchor="end" fill="#141414" textLength="18.5" lengthAdjust="spacingAndGlyphs">IGF-1</text>
<text transform="translate(313.2 372.40000000000003) rotate(-45)" font-size="8.4" text-anchor="end" fill="#141414" textLength="16.0" lengthAdjust="spacingAndGlyphs">TPO</text>
<line x1="226.25" y1="418.2" x2="226.25" y2="488.05" stroke="#141414" stroke-width="1.25" stroke-linecap="butt"/>
<line x1="225.7" y1="487.5" x2="328" y2="487.5" stroke="#141414" stroke-width="1.25" stroke-linecap="butt"/>
<line x1="223.25" y1="421" x2="226.25" y2="421" stroke="#141414" stroke-width="1.25" stroke-linecap="butt"/>
<text x="220.05" y="423.9" font-size="8.1" text-anchor="end" fill="#141414" textLength="4.23" lengthAdjust="spacingAndGlyphs" >4</text>
<line x1="223.25" y1="437.7" x2="226.25" y2="437.7" stroke="#141414" stroke-width="1.25" stroke-linecap="butt"/>
<text x="220.05" y="440.59999999999997" font-size="8.1" text-anchor="end" fill="#141414" textLength="4.23" lengthAdjust="spacingAndGlyphs" >3</text>
<line x1="223.25" y1="454.3" x2="226.25" y2="454.3" stroke="#141414" stroke-width="1.25" stroke-linecap="butt"/>
<text x="220.05" y="457.2" font-size="8.1" text-anchor="end" fill="#141414" textLength="4.23" lengthAdjust="spacingAndGlyphs" >2</text>
<line x1="223.25" y1="470.9" x2="226.25" y2="470.9" stroke="#141414" stroke-width="1.25" stroke-linecap="butt"/>
<text x="220.05" y="473.79999999999995" font-size="8.1" text-anchor="end" fill="#141414" textLength="4.23" lengthAdjust="spacingAndGlyphs" >1</text>
<line x1="223.25" y1="487.5" x2="226.25" y2="487.5" stroke="#141414" stroke-width="1.25" stroke-linecap="butt"/>
<text x="220.05" y="490.4" font-size="8.1" text-anchor="end" fill="#141414" textLength="4.23" lengthAdjust="spacingAndGlyphs" >0</text>
<line x1="243" y1="487.5" x2="243" y2="490.5" stroke="#141414" stroke-width="1.25" stroke-linecap="butt"/>
<line x1="276.75" y1="487.5" x2="276.75" y2="490.5" stroke="#141414" stroke-width="1.25" stroke-linecap="butt"/>
<line x1="310.75" y1="487.5" x2="310.75" y2="490.5" stroke="#141414" stroke-width="1.25" stroke-linecap="butt"/>
<line x1="243.125" y1="467.25" x2="243.125" y2="471.5" stroke="#141f38" stroke-width="1.2" stroke-linecap="butt"/>
<line x1="237.4375" y1="467.25" x2="248.8125" y2="467.25" stroke="#141f38" stroke-width="1.2" stroke-linecap="butt"/>
<rect x="231.75" y="471" width="22.75" height="16.1" fill="#2c4d85" />
<line x1="276.75" y1="434.25" x2="276.75" y2="439.0" stroke="#3a0a12" stroke-width="1.2" stroke-linecap="butt"/>
<line x1="271.125" y1="434.25" x2="282.375" y2="434.25" stroke="#3a0a12" stroke-width="1.2" stroke-linecap="butt"/>
<rect x="265.5" y="438.5" width="22.5" height="48.6" fill="#ab0529" />
<line x1="310.375" y1="446" x2="310.375" y2="449.25" stroke="#38365a" stroke-width="1.2" stroke-linecap="butt"/>
<line x1="304.5625" y1="446" x2="316.1875" y2="446" stroke="#38365a" stroke-width="1.2" stroke-linecap="butt"/>
<rect x="298.75" y="448.75" width="23.25" height="38.35" fill="#8b86bf" />
<path d="M243 431.85 V429.65 Q243 429.25 243.4 429.25 H276.35 Q276.75 429.25 276.75 429.65 V431.85" fill="none" stroke="#141414" stroke-width="1.3"/>
<text x="260.75" y="428.8" font-size="9" text-anchor="middle" fill="#141414" font-weight="bold" letter-spacing="-0.3">**</text>
<path d="M243 423.1 V420.9 Q243 420.5 243.4 420.5 H310.35 Q310.75 420.5 310.75 420.9 V423.1" fill="none" stroke="#141414" stroke-width="1.3"/>
<text x="277.5" y="420.5" font-size="9" text-anchor="middle" fill="#141414" font-weight="bold" letter-spacing="-0.3">**</text>
<path d="M276.75 413.8 V411.4 Q276.75 411 277.15 411 H310.35 Q310.75 411 310.75 411.4 V413.8" fill="none" stroke="#141414" stroke-width="1.3"/>
<text x="293.75" y="411.6" font-size="9" text-anchor="middle" fill="#141414" font-weight="bold" letter-spacing="-0.3">*</text>
<text transform="translate(199.05599999999998 461.75) rotate(-90)" font-size="8.4" fill="#222" stroke="#222" stroke-width="0.22" textLength="17.5" lengthAdjust="spacingAndGlyphs">P-Akt</text>
<text transform="translate(210.256 478.6) rotate(-90)" font-size="8.4" fill="#222" stroke="#222" stroke-width="0.22" textLength="52.200000000000045" lengthAdjust="spacingAndGlyphs">(fold induction)</text>
<text transform="translate(246.2 497.1) rotate(-45)" font-size="8.4" text-anchor="end" fill="#141414">Control</text>
<text transform="translate(279.7 497.40000000000003) rotate(-45)" font-size="8.4" text-anchor="end" fill="#141414" textLength="18.5" lengthAdjust="spacingAndGlyphs">IGF-1</text>
<text transform="translate(313.2 497.40000000000003) rotate(-45)" font-size="8.4" text-anchor="end" fill="#141414" textLength="16.0" lengthAdjust="spacingAndGlyphs">TPO</text>
<text transform="translate(350.1 288.40000000000003) scale(1.1 1)" font-size="11.2" font-weight="bold" fill="#000" stroke="#000" stroke-width="0.4" stroke-linejoin="round">H</text>
<line x1="405" y1="290.95" x2="405" y2="363.05" stroke="#141414" stroke-width="1.25" stroke-linecap="butt"/>
<line x1="404.45" y1="362.5" x2="507.5" y2="362.5" stroke="#141414" stroke-width="1.25" stroke-linecap="butt"/>
<line x1="402" y1="293.75" x2="405" y2="293.75" stroke="#141414" stroke-width="1.25" stroke-linecap="butt"/>
<text x="398.8" y="296.65" font-size="8.1" text-anchor="end" fill="#141414" textLength="12.7" lengthAdjust="spacingAndGlyphs" >120</text>
<line x1="402" y1="305.2" x2="405" y2="305.2" stroke="#141414" stroke-width="1.25" stroke-linecap="butt"/>
<text x="398.8" y="308.09999999999997" font-size="8.1" text-anchor="end" fill="#141414" textLength="12.7" lengthAdjust="spacingAndGlyphs" >100</text>
<line x1="402" y1="316.7" x2="405" y2="316.7" stroke="#141414" stroke-width="1.25" stroke-linecap="butt"/>
<text x="398.8" y="319.59999999999997" font-size="8.1" text-anchor="end" fill="#141414" textLength="8.47" lengthAdjust="spacingAndGlyphs" >80</text>
<line x1="402" y1="328.1" x2="405" y2="328.1" stroke="#141414" stroke-width="1.25" stroke-linecap="butt"/>
<text x="398.8" y="331.0" font-size="8.1" text-anchor="end" fill="#141414" textLength="8.47" lengthAdjust="spacingAndGlyphs" >60</text>
<line x1="402" y1="339.6" x2="405" y2="339.6" stroke="#141414" stroke-width="1.25" stroke-linecap="butt"/>
<text x="398.8" y="342.5" font-size="8.1" text-anchor="end" fill="#141414" textLength="8.47" lengthAdjust="spacingAndGlyphs" >40</text>
<line x1="402" y1="351" x2="405" y2="351" stroke="#141414" stroke-width="1.25" stroke-linecap="butt"/>
<text x="398.8" y="353.9" font-size="8.1" text-anchor="end" fill="#141414" textLength="8.47" lengthAdjust="spacingAndGlyphs" >20</text>
<line x1="402" y1="362.5" x2="405" y2="362.5" stroke="#141414" stroke-width="1.25" stroke-linecap="butt"/>
<text x="398.8" y="365.4" font-size="8.1" text-anchor="end" fill="#141414" textLength="4.23" lengthAdjust="spacingAndGlyphs" >0</text>
<line x1="422" y1="362.5" x2="422" y2="365.5" stroke="#141414" stroke-width="1.25" stroke-linecap="butt"/>
<line x1="456.25" y1="362.5" x2="456.25" y2="365.5" stroke="#141414" stroke-width="1.25" stroke-linecap="butt"/>
<line x1="490.75" y1="362.5" x2="490.75" y2="365.5" stroke="#141414" stroke-width="1.25" stroke-linecap="butt"/>
<line x1="422.25" y1="327.5" x2="422.25" y2="331.0" stroke="#141f38" stroke-width="1.2" stroke-linecap="butt"/>
<line x1="416.5" y1="327.5" x2="428.0" y2="327.5" stroke="#141f38" stroke-width="1.2" stroke-linecap="butt"/>
<rect x="410.75" y="330.5" width="23.0" height="31.6" fill="#2c4d85" />
<line x1="456.5" y1="308.75" x2="456.5" y2="311.75" stroke="#3a0a12" stroke-width="1.2" stroke-linecap="butt"/>
<line x1="450.75" y1="308.75" x2="462.25" y2="308.75" stroke="#3a0a12" stroke-width="1.2" stroke-linecap="butt"/>
<rect x="445" y="311.25" width="23" height="50.85" fill="#ab0529" />
<line x1="490.875" y1="318.5" x2="490.875" y2="321.0" stroke="#38365a" stroke-width="1.2" stroke-linecap="butt"/>
<line x1="485.0625" y1="318.5" x2="496.6875" y2="318.5" stroke="#38365a" stroke-width="1.2" stroke-linecap="butt"/>
<rect x="479.25" y="320.5" width="23.25" height="41.6" fill="#8b86bf" />
<path d="M422.7 299.90000000000003 V297.5 Q422.7 297.1 423.09999999999997 297.1 H490.85 Q491.25 297.1 491.25 297.5 V299.90000000000003" fill="none" stroke="#141414" stroke-width="1.3"/>
<text x="456.25" y="297.6" font-size="9" text-anchor="middle" fill="#141414" font-weight="bold" letter-spacing="-0.3">*</text>
<path d="M422.5 306.40000000000003 V304.0 Q422.5 303.6 422.9 303.6 H456.1 Q456.5 303.6 456.5 304.0 V306.40000000000003" fill="none" stroke="#141414" stroke-width="1.3"/>
<text x="437" y="304.8" font-size="9" text-anchor="middle" fill="#141414" font-weight="bold" letter-spacing="-0.3">**</text>
<path d="M456.5 306.40000000000003 V304.0 Q456.5 303.6 456.9 303.6 H490.85 Q491.25 303.6 491.25 304.0 V306.40000000000003" fill="none" stroke="#141414" stroke-width="1.3"/>
<text x="475" y="304.8" font-size="9" text-anchor="middle" fill="#141414" font-weight="bold" letter-spacing="-0.3">*</text>
<text transform="translate(369.31 358.75) rotate(-90)" font-size="9.0" fill="#222" stroke="#222" stroke-width="0.22" textLength="63.75" lengthAdjust="spacingAndGlyphs">Proplatelet forming</text>
<text transform="translate(380.56 348.75) rotate(-90)" font-size="9.0" fill="#222" stroke="#222" stroke-width="0.22" textLength="43.75" lengthAdjust="spacingAndGlyphs">cells per well</text>
<text transform="translate(425.2 372.1) rotate(-45)" font-size="8.4" text-anchor="end" fill="#141414">Control</text>
<text transform="translate(459.2 372.40000000000003) rotate(-45)" font-size="8.4" text-anchor="end" fill="#141414" textLength="18.5" lengthAdjust="spacingAndGlyphs">IGF-1</text>
<text transform="translate(493.2 372.40000000000003) rotate(-45)" font-size="8.4" text-anchor="end" fill="#141414" textLength="16.0" lengthAdjust="spacingAndGlyphs">TPO</text>
<text transform="translate(354.8 414.1) scale(1.1 1)" font-size="11.2" font-weight="bold" fill="#000" stroke="#000" stroke-width="0.4" stroke-linejoin="round">I</text>
<line x1="405" y1="415.2" x2="405" y2="487.8" stroke="#141414" stroke-width="1.25" stroke-linecap="butt"/>
<line x1="404.45" y1="487.25" x2="504.5" y2="487.25" stroke="#141414" stroke-width="1.25" stroke-linecap="butt"/>
<line x1="402" y1="418" x2="405" y2="418" stroke="#141414" stroke-width="1.25" stroke-linecap="butt"/>
<text x="398.8" y="420.9" font-size="8.1" text-anchor="end" fill="#141414" textLength="8.47" lengthAdjust="spacingAndGlyphs" >20</text>
<line x1="402" y1="435.3" x2="405" y2="435.3" stroke="#141414" stroke-width="1.25" stroke-linecap="butt"/>
<text x="398.8" y="438.2" font-size="8.1" text-anchor="end" fill="#141414" textLength="8.47" lengthAdjust="spacingAndGlyphs" >15</text>
<line x1="402" y1="452.6" x2="405" y2="452.6" stroke="#141414" stroke-width="1.25" stroke-linecap="butt"/>
<text x="398.8" y="455.5" font-size="8.1" text-anchor="end" fill="#141414" textLength="8.47" lengthAdjust="spacingAndGlyphs" >10</text>
<line x1="402" y1="469.9" x2="405" y2="469.9" stroke="#141414" stroke-width="1.25" stroke-linecap="butt"/>
<text x="398.8" y="472.79999999999995" font-size="8.1" text-anchor="end" fill="#141414" textLength="4.23" lengthAdjust="spacingAndGlyphs" >5</text>
<line x1="402" y1="487.25" x2="405" y2="487.25" stroke="#141414" stroke-width="1.25" stroke-linecap="butt"/>
<text x="398.8" y="490.15" font-size="8.1" text-anchor="end" fill="#141414" textLength="4.23" lengthAdjust="spacingAndGlyphs" >0</text>
<line x1="421.25" y1="487.25" x2="421.25" y2="490.25" stroke="#141414" stroke-width="1.25" stroke-linecap="butt"/>
<line x1="454.25" y1="487.25" x2="454.25" y2="490.25" stroke="#141414" stroke-width="1.25" stroke-linecap="butt"/>
<line x1="487.5" y1="487.25" x2="487.5" y2="490.25" stroke="#141414" stroke-width="1.25" stroke-linecap="butt"/>
<line x1="421.5" y1="460.5" x2="421.5" y2="463.5" stroke="#141f38" stroke-width="1.2" stroke-linecap="butt"/>
<line x1="415.75" y1="460.5" x2="427.25" y2="460.5" stroke="#141f38" stroke-width="1.2" stroke-linecap="butt"/>
<rect x="410" y="463" width="23" height="23.85" fill="#2c4d85" />
<line x1="454.375" y1="432.5" x2="454.375" y2="436.5" stroke="#3a0a12" stroke-width="1.2" stroke-linecap="butt"/>
<line x1="448.6875" y1="432.5" x2="460.0625" y2="432.5" stroke="#3a0a12" stroke-width="1.2" stroke-linecap="butt"/>
<rect x="443" y="436" width="22.75" height="50.85" fill="#ab0529" />
<line x1="487.25" y1="443.5" x2="487.25" y2="447.25" stroke="#38365a" stroke-width="1.2" stroke-linecap="butt"/>
<line x1="481.5" y1="443.5" x2="493.0" y2="443.5" stroke="#38365a" stroke-width="1.2" stroke-linecap="butt"/>
<rect x="475.75" y="446.75" width="23.0" height="40.1" fill="#8b86bf" />
<path d="M420.5 422.09999999999997 V419.59999999999997 Q420.5 419.2 420.9 419.2 H487.1 Q487.5 419.2 487.5 419.59999999999997 V422.09999999999997" fill="none" stroke="#141414" stroke-width="1.3"/>
<text x="452" y="419.6" font-size="9" text-anchor="middle" fill="#141414" font-weight="bold" letter-spacing="-0.3">*</text>
<path d="M420.5 429.4 V426.79999999999995 Q420.5 426.4 420.9 426.4 H454.3 Q454.7 426.4 454.7 426.79999999999995 V429.4" fill="none" stroke="#141414" stroke-width="1.3"/>
<text x="434.5" y="427.6" font-size="9" text-anchor="middle" fill="#141414" font-weight="bold" letter-spacing="-0.3">**</text>
<path d="M454.7 429.4 V426.79999999999995 Q454.7 426.4 455.09999999999997 426.4 H487.1 Q487.5 426.4 487.5 426.79999999999995 V429.4" fill="none" stroke="#141414" stroke-width="1.3"/>
<text x="471.75" y="427.6" font-size="9" text-anchor="middle" fill="#141414" font-weight="bold" letter-spacing="-0.3">*</text>
<text transform="translate(373.06 477.8) rotate(-90)" font-size="9.0" fill="#222" stroke="#222" stroke-width="0.22" textLength="52.19999999999999" lengthAdjust="spacingAndGlyphs">Culture-derived</text>
<text transform="translate(383.56 471.7) rotate(-90)" font-size="9.0" fill="#222" stroke="#222" stroke-width="0.22" textLength="40.19999999999999" lengthAdjust="spacingAndGlyphs">platelets(%)</text>
<text transform="translate(424.7 497.1) rotate(-45)" font-size="8.4" text-anchor="end" fill="#141414">Control</text>
<text transform="translate(457.7 497.40000000000003) rotate(-45)" font-size="8.4" text-anchor="end" fill="#141414" textLength="18.5" lengthAdjust="spacingAndGlyphs">IGF-1</text>
<text transform="translate(490.7 497.40000000000003) rotate(-45)" font-size="8.4" text-anchor="end" fill="#141414" textLength="16.0" lengthAdjust="spacingAndGlyphs">TPO</text>
<g clip-path="url(#c1)"><rect x="64.8" y="302.5" width="93.8" height="20.5" fill="url(#g1)"/><rect x="64.8" y="302.5" width="93.8" height="20.5" fill="url(#g1v)"/>
<rect x="96" y="305" width="27" height="15" fill="#000" fill-opacity="0.26" filter="url(#b2_5)"/>
<rect x="128" y="304" width="28" height="16" fill="#000" fill-opacity="0.34" filter="url(#b2_5)"/>
<rect x="73.5" y="316.20000000000005" width="14.5" height="2.8" rx="1.4" fill="#000" fill-opacity="0.32" filter="url(#b1_4)"/>
<rect x="97.5" y="309.0" width="24.0" height="3.6" rx="1.8" fill="#000" fill-opacity="0.42" filter="url(#b1_4)"/>
<rect x="97.5" y="315.1" width="24.0" height="4.0" rx="2.0" fill="#000" fill-opacity="0.72" filter="url(#b1_4)"/>
<rect x="130" y="308.6" width="24" height="3.8" rx="1.9" fill="#000" fill-opacity="0.62" filter="url(#b1_4)"/>
<rect x="130" y="314.7" width="24" height="5.2" rx="2.6" fill="#000" fill-opacity="0.97" filter="url(#b1_4)"/>
</g>
<g clip-path="url(#c2)"><rect x="64.8" y="328.75" width="93.8" height="21.25" fill="#e6e6e6"/><rect x="64.8" y="328.75" width="93.8" height="21.25" filter="url(#noiseL)" opacity="0.25"/>
<rect x="72.5" y="333.9" width="21.400000000000006" height="4.6" rx="2.3" fill="#000" fill-opacity="0.45" filter="url(#b1_2)"/>
<rect x="71.7" y="338.79999999999995" width="23.0" height="5.2" rx="2.6" fill="#000" fill-opacity="0.95" filter="url(#b1_2)"/>
<rect x="102.2" y="333.9" width="21.599999999999994" height="4.6" rx="2.3" fill="#000" fill-opacity="0.45" filter="url(#b1_2)"/>
<rect x="101.4" y="338.79999999999995" width="23.19999999999999" height="5.2" rx="2.6" fill="#000" fill-opacity="0.95" filter="url(#b1_2)"/>
<rect x="131.8" y="333.9" width="20.69999999999999" height="4.6" rx="2.3" fill="#000" fill-opacity="0.45" filter="url(#b1_2)"/>
<rect x="131" y="338.79999999999995" width="22.30000000000001" height="5.2" rx="2.6" fill="#000" fill-opacity="0.95" filter="url(#b1_2)"/>
</g>
<g clip-path="url(#c3)"><rect x="64.8" y="357.5" width="93.8" height="20.5" fill="#e6e6e6"/><rect x="64.8" y="357.5" width="93.8" height="20.5" filter="url(#noiseS)" opacity="0.45"/>
<rect x="99" y="360" width="24" height="17" fill="#000" fill-opacity="0.16" filter="url(#b2_5)"/>
<rect x="129" y="362" width="23" height="14" fill="#000" fill-opacity="0.08" filter="url(#b2_5)"/>
<rect x="73" y="369.2" width="17" height="2.0" rx="1.0" fill="#000" fill-opacity="0.33" filter="url(#b1_0)"/>
<rect x="99.4" y="368.0" width="23.19999999999999" height="4.2" rx="2.1" fill="#000" fill-opacity="0.93" filter="url(#b1_0)"/>
<rect x="128.7" y="368.5" width="22.30000000000001" height="3.2" rx="1.6" fill="#000" fill-opacity="0.78" filter="url(#b1_0)"/>
</g>
<g clip-path="url(#c4)"><rect x="64.8" y="381.25" width="93.8" height="20.5" fill="url(#g4)"/>
<path d="M66.6 391.4 Q80.3 393.2 94.0 391.4 L94.0 397.4 Q80.3 399.2 66.6 397.4 Z" fill="#000" fill-opacity="0.93" filter="url(#b1_4)"/>
<path d="M97.4 391.4 Q110.80000000000001 393.2 124.2 391.4 L124.2 397.4 Q110.80000000000001 399.2 97.4 397.4 Z" fill="#000" fill-opacity="0.93" filter="url(#b1_4)"/>
<path d="M128.4 391.4 Q141.60000000000002 393.2 154.8 391.4 L154.8 397.4 Q141.60000000000002 399.2 128.4 397.4 Z" fill="#000" fill-opacity="0.93" filter="url(#b1_4)"/>
</g>
<g clip-path="url(#c5)"><rect x="64.8" y="410.5" width="93.8" height="20.75" fill="url(#g5)"/>
<path d="M67.6 417.79999999999995 Q80.69999999999999 418.99999999999994 93.8 417.79999999999995 L93.8 423.0 Q80.69999999999999 424.2 67.6 423.0 Z" fill="#000" fill-opacity="0.93" filter="url(#b1_4)"/>
<path d="M99.0 417.79999999999995 Q112.0 418.99999999999994 125.0 417.79999999999995 L125.0 423.0 Q112.0 424.2 99.0 423.0 Z" fill="#000" fill-opacity="0.93" filter="url(#b1_4)"/>
<path d="M129.8 417.79999999999995 Q142.7 418.99999999999994 155.6 417.79999999999995 L155.6 423.0 Q142.7 424.2 129.8 423.0 Z" fill="#000" fill-opacity="0.93" filter="url(#b1_4)"/>
</g>
<text x="43.6" y="316" font-size="7.7" text-anchor="middle" fill="#141414" textLength="34.5" lengthAdjust="spacingAndGlyphs" >p-ERK1/2</text>
<text x="43.7" y="344.5" font-size="7.7" text-anchor="middle" fill="#141414" textLength="26.5" lengthAdjust="spacingAndGlyphs" >ERK1/2</text>
<text x="43.7" y="372" font-size="7.7" text-anchor="middle" fill="#141414" textLength="20" lengthAdjust="spacingAndGlyphs" >p-Akt</text>
<text x="43.7" y="398.2" font-size="7.7" text-anchor="middle" fill="#141414" textLength="12.5" lengthAdjust="spacingAndGlyphs" >Akt</text>
<text x="30" y="423.2" font-size="7.7" text-anchor="start" fill="#141414" textLength="28" lengthAdjust="spacingAndGlyphs" >GAPDH</text>
<text x="30" y="443.7" font-size="7.7" text-anchor="start" fill="#141414" textLength="18.3" lengthAdjust="spacingAndGlyphs" >IGF-1</text>
<text x="30.5" y="465.2" font-size="7.7" text-anchor="start" fill="#141414" textLength="15.8" lengthAdjust="spacingAndGlyphs" >TPO</text>
<text x="81.25" y="443.8" font-size="7.5" text-anchor="middle" fill="#141414" >-</text>
<text x="112.5" y="445.0" font-size="9.5" text-anchor="middle" fill="#141414" >+</text>
<text x="143.75" y="443.8" font-size="7.5" text-anchor="middle" fill="#141414" >-</text>
<text x="81.25" y="465.3" font-size="7.5" text-anchor="middle" fill="#141414" >-</text>
<text x="112.5" y="465.3" font-size="7.5" text-anchor="middle" fill="#141414" >-</text>
<text x="143.75" y="466.5" font-size="9.5" text-anchor="middle" fill="#141414" >+</text>
<rect x="0.7" y="0.7" width="518.6" height="521.6" fill="none" stroke="#000" stroke-width="1.4"/>
</svg>
</body></html>
